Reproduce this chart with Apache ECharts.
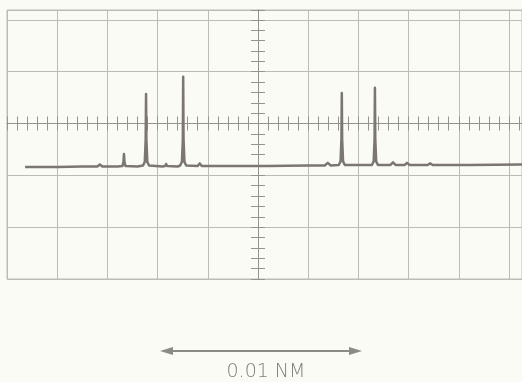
<!DOCTYPE html>
<html>
<head>
<meta charset="utf-8">
<script src="https://cdn.jsdelivr.net/npm/echarts@6/dist/echarts.min.js"></script>
<style>
  html, body { margin: 0; padding: 0; background: #fbfbf5; }
  #chart { width: 522px; height: 382px; }
</style>
</head>
<body>
<div id="chart"></div>
<script>
// Trace values in screen divisions: [horizontal division, vertical division]
const traceData = [
  [-4.64, -0.84], [-4.0, -0.84], [-3.5, -0.83], [-3.2, -0.83], [-3.15, -0.79], [-3.1, -0.83],
  [-2.8, -0.83], [-2.7, -0.82], [-2.68, -0.74], [-2.67, -0.59], [-2.66, -0.74], [-2.64, -0.82],
  [-2.4, -0.83], [-2.29, -0.81], [-2.255, -0.74], [-2.237, -0.3], [-2.23, 0.57], [-2.223, -0.3],
  [-2.205, -0.74], [-2.17, -0.81], [-1.9, -0.83], [-1.85, -0.82], [-1.83, -0.78], [-1.81, -0.82],
  [-1.6, -0.83], [-1.55, -0.81], [-1.515, -0.74], [-1.497, -0.3], [-1.49, 0.90], [-1.483, -0.3],
  [-1.465, -0.74], [-1.43, -0.81], [-1.2, -0.82], [-1.16, -0.77], [-1.12, -0.82], [-0.5, -0.82],
  [0.2, -0.82], [1.0, -0.81], [1.33, -0.81], [1.39, -0.76], [1.45, -0.81], [1.61, -0.80],
  [1.645, -0.73], [1.663, -0.3], [1.67, 0.59], [1.677, -0.3], [1.695, -0.73], [1.73, -0.80],
  [2.27, -0.80], [2.305, -0.73], [2.323, -0.3], [2.33, 0.69], [2.337, -0.3], [2.355, -0.73],
  [2.39, -0.80], [2.64, -0.80], [2.69, -0.75], [2.74, -0.80], [2.92, -0.80], [2.97, -0.76],
  [3.02, -0.80], [3.38, -0.80], [3.43, -0.77], [3.48, -0.80], [4.2, -0.80], [5.26, -0.79]
];
const xRange = [-5, 5.26];
const yRange = [-3, 2.19];
const scaleLabel = '0.01 NM';

const gridColor = '#bcbcb4';
const tickColor = '#94948e';
const traceColor = '#7b7672';

const chart = echarts.init(document.getElementById('chart'), null, { renderer: 'canvas' });

function xAx(pos, idx, split) {
  return {
    type: 'value', gridIndex: 0, position: pos, min: xRange[0], max: xRange[1], interval: 1,
    axisLine: { show: true, onZero: true, onZeroAxisIndex: idx, lineStyle: { color: tickColor, width: 1 } },
    axisTick: { show: true, inside: false, length: 7, lineStyle: { color: tickColor, width: 1 } },
    minorTick: { show: true, splitNumber: 5, length: 7, lineStyle: { color: tickColor, width: 1 } },
    axisLabel: { show: false },
    splitLine: { show: split, lineStyle: { color: gridColor, width: 1 } },
    minorSplitLine: { show: false }
  };
}
function yAx(pos, idx, split) {
  return {
    type: 'value', gridIndex: 0, position: pos, min: yRange[0], max: yRange[1], interval: 1,
    axisLine: { show: true, onZero: true, onZeroAxisIndex: idx, lineStyle: { color: tickColor, width: 1 } },
    axisTick: { show: true, inside: false, length: 7, lineStyle: { color: tickColor, width: 1 } },
    minorTick: { show: true, splitNumber: 5, length: 7, lineStyle: { color: tickColor, width: 1 } },
    axisLabel: { show: false },
    splitLine: { show: split, lineStyle: { color: gridColor, width: 1 } },
    minorSplitLine: { show: false }
  };
}

chart.setOption({
  animation: false,
  backgroundColor: '#fbfbf5',
  grid: { left: 7, right: 0, top: 10, bottom: 103, show: true, borderColor: gridColor, borderWidth: 1, backgroundColor: 'transparent' },
  xAxis: [xAx('bottom', 0, true), xAx('top', 1, false)],
  yAxis: [yAx('left', 0, true), yAx('right', 1, false)],
  series: [{
    type: 'line', xAxisIndex: 0, yAxisIndex: 0, data: traceData, symbol: 'none', clip: false,
    lineStyle: { color: traceColor, width: 2.5, join: 'round' }, z: 5
  }],
  graphic: [
    { type: 'line', shape: { x1: 166, y1: 351, x2: 356, y2: 351 }, style: { stroke: '#8a8a86', lineWidth: 2 } },
    { type: 'polygon', shape: { points: [[160, 351], [173, 347], [173, 355]] }, style: { fill: '#8a8a86' } },
    { type: 'polygon', shape: { points: [[362, 351], [349, 347], [349, 355]] }, style: { fill: '#8a8a86' } },
    { type: 'text', x: 266, y: 372, style: { text: scaleLabel, fill: '#7f7f7b', font: '300 19px "DejaVu Sans"', align: 'center', verticalAlign: 'middle' } }
  ]
});
</script>
</body>
</html>
